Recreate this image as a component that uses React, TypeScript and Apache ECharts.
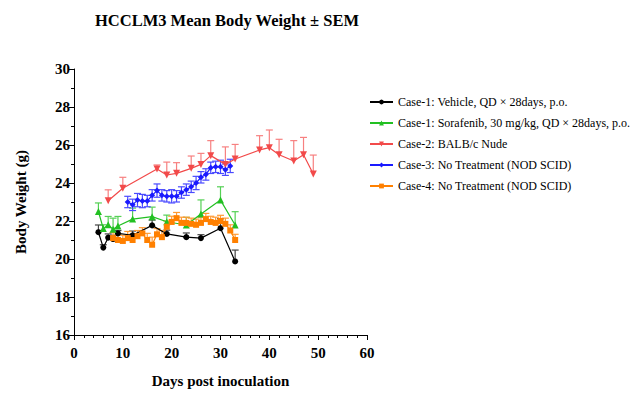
import React, { useEffect, useRef } from "react";
import * as echarts from "echarts";

// Case-1: Vehicle
const vehicleDays = [5, 6, 7, 8, 9, 12, 16, 19, 23, 26, 30, 33];
const vehicleMean = [21.41, 20.6, 21.12, 21.05, 21.35, 21.25, 21.77, 21.32, 21.15, 21.1, 21.62, 19.87];
const vehicleSem = [0.38, 0.15, 0.2, 0.2, 0.15, 0.22, 0.28, 0.2, 0.22, 0.18, 0.5, 0.6];

// Case-1: Sorafenib
const sorafenibDays = [5, 6, 7, 8, 9, 12, 16, 19, 23, 26, 30, 33];
const sorafenibMean = [22.5, 21.6, 21.8, 21.56, 21.74, 22.1, 22.23, 21.96, 21.79, 22.37, 23.1, 21.79];
const sorafenibSem = [0.45, 0.2, 0.44, 0.59, 0.5, 0.58, 0.5, 0.35, 0.4, 0.74, 0.7, 0.7];

// Case-2: BALB/c Nude
const nudeDays = [7, 10, 17, 19, 21, 24, 26, 28, 31, 33, 38, 40, 42, 45, 47, 49];
const nudeMean = [23.07, 23.72, 24.74, 24.42, 24.51, 24.77, 24.98, 25.44, 24.98, 25.26, 25.74, 25.86, 25.49, 25.16, 25.49, 24.47];
const nudeSem = [0.57, 0.58, 0.21, 0.68, 0.56, 0.65, 0.58, 0.79, 0.92, 0.77, 0.75, 0.93, 0.81, 1.07, 0.91, 1.0];

// Case-3: No Treatment (NOD SCID)
const scid3Days = [11, 12, 13, 14, 15, 16, 17, 18, 19, 20, 21, 22, 23, 24, 25, 26, 27, 28, 29, 30, 31, 32];
const scid3Mean = [23.0, 22.85, 23.1, 23.05, 23.05, 23.35, 23.6, 23.35, 23.3, 23.3, 23.3, 23.5, 23.65, 23.8, 24.0, 24.3, 24.45, 24.8, 24.85, 24.85, 24.7, 24.9];
const scid3Sem = [0.3, 0.3, 0.35, 0.35, 0.3, 0.3, 0.35, 0.3, 0.3, 0.35, 0.3, 0.3, 0.3, 0.3, 0.35, 0.3, 0.3, 0.3, 0.3, 0.35, 0.3, 0.35];

// Case-4: No Treatment (NOD SCID)
const scid4Days = [8, 9, 10, 11, 12, 13, 14, 15, 16, 17, 18, 19, 20, 21, 22, 23, 24, 25, 26, 27, 28, 29, 30, 31, 32, 33];
const scid4Mean = [21.1, 21.0, 20.95, 21.1, 21.0, 21.2, 21.35, 21.0, 20.75, 21.3, 21.15, 21.7, 21.95, 22.15, 21.9, 21.9, 21.85, 21.8, 21.9, 22.1, 21.95, 21.9, 22.0, 21.85, 21.5, 21.0];
const scid4Sem = [0.3, 0.3, 0.3, 0.35, 0.3, 0.3, 0.3, 0.35, 0.4, 0.3, 0.35, 0.3, 0.3, 0.3, 0.3, 0.3, 0.3, 0.3, 0.3, 0.3, 0.3, 0.3, 0.3, 0.3, 0.3, 0.3];

const seriesNames = [
  "Case-1: Vehicle, QD × 28days, p.o.",
  "Case-1: Sorafenib, 30 mg/kg, QD × 28days, p.o.",
  "Case-2: BALB/c Nude",
  "Case-3: No Treatment (NOD SCID)",
  "Case-4: No Treatment (NOD SCID)",
];

const xTicks = { min: 0, max: 60, interval: 10 };
const yTicks = { min: 16, max: 30, interval: 2 };

const FONT = "Liberation Serif";

type Group = {
  name: string;
  days: number[];
  mean: number[];
  sem: number[];
  color: string;
  barColor: string;
  symbol: string;
  symbolSize: number;
  bothSides: boolean;
};

const groups: Group[] = [
  { name: seriesNames[0], days: vehicleDays, mean: vehicleMean, sem: vehicleSem, color: "#000000", barColor: "#444444", symbol: "circle", symbolSize: 6, bothSides: false },
  { name: seriesNames[1], days: sorafenibDays, mean: sorafenibMean, sem: sorafenibSem, color: "#22c022", barColor: "#55d055", symbol: "triangle", symbolSize: 7, bothSides: false },
  { name: seriesNames[2], days: nudeDays, mean: nudeMean, sem: nudeSem, color: "#f24a4a", barColor: "#f78080", symbol: "path://M0,0 L10,0 L5,9 Z", symbolSize: 7, bothSides: false },
  { name: seriesNames[3], days: scid3Days, mean: scid3Mean, sem: scid3Sem, color: "#1a1aff", barColor: "#4a4aff", symbol: "diamond", symbolSize: 6, bothSides: true },
  { name: seriesNames[4], days: scid4Days, mean: scid4Mean, sem: scid4Sem, color: "#ff8000", barColor: "#ff9a33", symbol: "rect", symbolSize: 6, bothSides: false },
];

function errorBars(g: Group) {
  return {
    type: "custom",
    name: g.name + " SEM",
    silent: true,
    z: 1,
    data: g.days.map((d, i) => [d, g.bothSides ? g.mean[i] - g.sem[i] : g.mean[i], g.mean[i] + g.sem[i]]),
    encode: { x: 0, y: [1, 2] },
    renderItem: (_params: any, api: any) => {
      const x = api.value(0);
      const lo = api.coord([x, api.value(1)]);
      const hi = api.coord([x, api.value(2)]);
      const half = 3.5;
      const style = { stroke: g.barColor, lineWidth: 1.2 };
      const children: any[] = [
        { type: "line", shape: { x1: hi[0], y1: hi[1], x2: lo[0], y2: lo[1] }, style },
        { type: "line", shape: { x1: hi[0] - half, y1: hi[1], x2: hi[0] + half, y2: hi[1] }, style },
      ];
      if (g.bothSides) {
        children.push({ type: "line", shape: { x1: lo[0] - half, y1: lo[1], x2: lo[0] + half, y2: lo[1] }, style });
      }
      return { type: "group", children };
    },
  };
}

function meanLine(g: Group) {
  return {
    type: "line",
    name: g.name,
    z: 3,
    data: g.days.map((d, i) => [d, g.mean[i]]),
    symbol: g.symbol,
    symbolSize: g.symbolSize,
    showAllSymbol: true,
    itemStyle: { color: g.color },
    lineStyle: { color: g.color, width: 1.2 },
  };
}

export default function App() {
  const ref = useRef<HTMLDivElement>(null);

  useEffect(() => {
    if (!ref.current) return;
    const chart = echarts.init(ref.current, null, { renderer: "svg" });
    const axisText = { color: "#000", fontFamily: FONT, fontWeight: "bold", fontSize: 15 };
    chart.setOption({
      animation: false,
      backgroundColor: "#ffffff",
      title: {
        text: "HCCLM3 Mean Body Weight ± SEM",
        left: 95,
        top: 12,
        padding: 0,
        textStyle: { color: "#000", fontFamily: FONT, fontWeight: "bold", fontSize: 16.5 },
      },
      legend: {
        data: seriesNames,
        orient: "vertical",
        left: 364,
        top: 91,
        itemWidth: 23,
        itemHeight: 6,
        itemGap: 9,
        textStyle: { color: "#000", fontFamily: FONT, fontSize: 12 },
      },
      grid: { left: 74, top: 69, right: 275, bottom: 84, containLabel: false },
      xAxis: {
        type: "value",
        min: xTicks.min,
        max: xTicks.max,
        interval: xTicks.interval,
        name: "Days post inoculation",
        nameLocation: "middle",
        nameGap: 38,
        nameTextStyle: axisText,
        axisLine: { show: true, lineStyle: { color: "#000", width: 1 } },
        axisTick: { show: true, length: 5, lineStyle: { color: "#000" } },
        minorTick: { show: true, splitNumber: 5, length: 3, lineStyle: { color: "#000" } },
        splitLine: { show: false },
        axisLabel: { ...axisText, margin: 10 },
      },
      yAxis: {
        type: "value",
        min: yTicks.min,
        max: yTicks.max,
        interval: yTicks.interval,
        name: "Body Weight (g)",
        nameLocation: "middle",
        nameGap: 46,
        nameRotate: 90,
        nameTextStyle: axisText,
        axisLine: { show: true, lineStyle: { color: "#000", width: 1 } },
        axisTick: { show: true, length: 5, lineStyle: { color: "#000" } },
        minorTick: { show: true, splitNumber: 2, length: 3, lineStyle: { color: "#000" } },
        splitLine: { show: false },
        axisLabel: { ...axisText, margin: 4 },
      },
      series: [...groups.map(errorBars), ...groups.map(meanLine)],
    });
    return () => chart.dispose();
  }, []);

  return (
    <div
      ref={ref}
      style={{ position: "fixed", left: 0, top: 0, width: 642, height: 419, background: "#fff" }}
    />
  );
}
